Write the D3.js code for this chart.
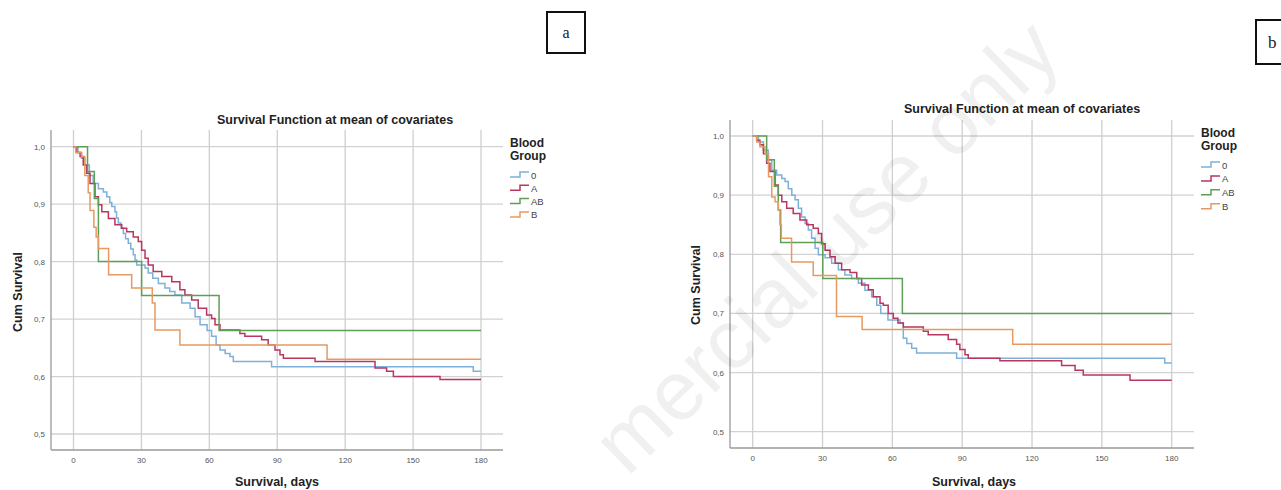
<!DOCTYPE html>
<html>
<head>
<meta charset="utf-8">
<script src="https://cdn.jsdelivr.net/npm/d3@7"></script>
<style>
  body { margin: 0; background: #fff; }
  text { font-family: Arial, "Liberation Sans", sans-serif; }
</style>
</head>
<body>
<svg id="chart" width="1281" height="490"></svg>
<script>
// blood groups and axis ticks
var groups = ["0", "A", "AB", "B"];
var groupColors = ["#7eb0da", "#b8375f", "#5f9e57", "#e69a62"];
var xTicks = [0, 30, 60, 90, 120, 150, 180];
var yTicks = [0.5, 0.6, 0.7, 0.8, 0.9, 1.0];

// panel a : [day, cum survival]
var a_0 = [[0,1],[2,0.99],[3.5,0.98],[5,0.968],[7,0.95],[8.7,0.936],[11,0.927],[13.2,0.921],[14.7,0.913],[16,0.903],[16.9,0.896],[18.3,0.887],[19,0.876],[19.8,0.867],[21,0.858],[22,0.849],[23,0.84],[24.2,0.832],[25.3,0.822],[26.4,0.812],[27.2,0.803],[27.9,0.794],[31.6,0.789],[33,0.78],[35,0.771],[37.5,0.762],[40.4,0.754],[42.5,0.748],[44.8,0.742],[47.8,0.728],[51.5,0.719],[53.7,0.704],[55.9,0.69],[59,0.68],[61,0.67],[63,0.655],[64.7,0.646],[67,0.64],[69.1,0.635],[70.6,0.626],[87.5,0.617],[176.6,0.609],[180,0.609]];
var a_A = [[0,1],[1.4,0.99],[2.9,0.983],[4.3,0.968],[5.8,0.954],[7.3,0.936],[9.5,0.913],[11,0.899],[12.5,0.887],[15.4,0.875],[18.3,0.864],[21.3,0.858],[23.5,0.852],[26.4,0.843],[28.6,0.835],[30.1,0.82],[31.6,0.806],[33,0.794],[35.2,0.783],[39,0.774],[43.4,0.765],[47,0.751],[49.2,0.742],[52.2,0.733],[55.1,0.719],[58.8,0.707],[61,0.701],[62.5,0.69],[64.7,0.681],[73.5,0.675],[75.7,0.67],[83.1,0.664],[86,0.655],[89,0.646],[91.2,0.638],[92.7,0.632],[106.7,0.626],[133.2,0.615],[138.3,0.609],[141.3,0.6],[161.9,0.595],[180,0.595]];
var a_AB = [[0,1],[6.2,0.957],[9.2,0.91],[11,0.8],[30.1,0.741],[64.3,0.68],[180,0.68]];
var a_B = [[0,1],[1,0.99],[3.6,0.983],[5,0.95],[6.5,0.92],[7.3,0.889],[9,0.86],[10,0.843],[11,0.823],[15.5,0.777],[25.7,0.754],[34.8,0.728],[36,0.681],[47,0.655],[112,0.63],[180,0.63]];

// panel b
var b_0 = [[0,1],[2.5,0.99],[4.6,0.976],[6.7,0.959],[8.2,0.942],[10.3,0.934],[12.5,0.928],[13.9,0.923],[15.3,0.911],[16.8,0.9],[18.2,0.892],[19.6,0.878],[21,0.863],[22.5,0.852],[23.9,0.841],[25.3,0.827],[26.8,0.81],[28.2,0.799],[31.1,0.794],[33.9,0.785],[36.8,0.774],[39.6,0.765],[42.5,0.759],[45.4,0.751],[48.2,0.739],[51.1,0.728],[53.3,0.714],[55,0.7],[58.1,0.689],[63.3,0.684],[64.7,0.658],[66.2,0.649],[68.3,0.641],[70.4,0.633],[87.6,0.624],[177,0.616],[180,0.616]];
var b_A = [[0,1],[1.7,0.993],[3.1,0.985],[4.6,0.97],[6,0.954],[7.4,0.94],[9.6,0.917],[11,0.9],[12.5,0.889],[14.6,0.878],[17.4,0.869],[20.3,0.858],[23.2,0.85],[26,0.844],[28.2,0.835],[29.6,0.818],[31.1,0.807],[33.2,0.796],[35.4,0.785],[38.2,0.774],[41.8,0.769],[44.7,0.759],[46.8,0.748],[49.7,0.74],[51.8,0.728],[54.7,0.717],[56.1,0.714],[58.2,0.7],[60.4,0.692],[62.4,0.684],[64.7,0.677],[73.3,0.67],[75.4,0.664],[84,0.656],[87.6,0.648],[89,0.639],[91.2,0.63],[92.6,0.624],[106.2,0.62],[132.7,0.612],[138.5,0.604],[142,0.596],[162.1,0.587],[180,0.587]];
var b_AB = [[0,1],[6,0.96],[9.3,0.915],[11,0.875],[12,0.82],[30.1,0.759],[64.3,0.7],[180,0.7]];
var b_B = [[0,1],[1.7,0.99],[3.1,0.982],[5.3,0.97],[6.8,0.931],[8.2,0.897],[9.6,0.889],[11,0.875],[11.7,0.85],[12.3,0.827],[16.7,0.787],[26,0.764],[36,0.695],[47,0.673],[111.7,0.648],[180,0.648]];

var svg = d3.select("#chart");

var fmtY = function(v){ return d3.format(".1f")(v).replace(".", ","); };

var drawPanel = function(p)
{
    var g = svg.append("g");
    var x = d3.scaleLinear().domain([0, 180]).range([p.x0, p.x1]);
    var y = d3.scaleLinear().domain([0.5, 1.0]).range([p.y0, p.y1]);

    // grid
    g.selectAll(".hg").data(yTicks).enter().append("line")
        .attr("x1", p.left).attr("x2", p.right)
        .attr("y1", function(d){ return y(d); }).attr("y2", function(d){ return y(d); })
        .style("stroke", "#d2d2d2").style("stroke-width", 1.3);
    g.selectAll(".vg").data(xTicks).enter().append("line")
        .attr("x1", function(d){ return x(d); }).attr("x2", function(d){ return x(d); })
        .attr("y1", p.top).attr("y2", p.bottom)
        .style("stroke", "#cfcfcf").style("stroke-width", 1.3);

    // axes lines
    g.append("line").attr("x1", p.left).attr("x2", p.left).attr("y1", p.top).attr("y2", p.bottom)
        .style("stroke", "#9a9a9a").style("stroke-width", 1.3);
    g.append("line").attr("x1", p.left).attr("x2", p.right).attr("y1", p.bottom).attr("y2", p.bottom)
        .style("stroke", "#9a9a9a").style("stroke-width", 1.3);

    // tick labels
    g.selectAll(".yl").data(yTicks).enter().append("text")
        .attr("x", p.left - 6).attr("y", function(d){ return y(d) + 3; })
        .attr("text-anchor", "end").style("font-size", "8px").style("fill", "#555")
        .text(fmtY);
    g.selectAll(".xl").data(xTicks).enter().append("text")
        .attr("x", function(d){ return x(d); }).attr("y", p.bottom + 13)
        .attr("text-anchor", "middle").style("font-size", "8px").style("fill", "#555")
        .text(function(d){ return d; });

    // curves
    var linegen = d3.line()
        .x(function(d){ return x(d[0]); })
        .y(function(d){ return y(d[1]); })
        .curve(d3.curveStepAfter);
    g.selectAll(".curve").data(p.series).enter().append("path")
        .attr("d", linegen)
        .attr("fill", "none")
        .style("stroke", function(d, i){ return groupColors[i]; })
        .style("stroke-width", 1.5);

    // titles
    g.append("text").attr("x", p.titleX).attr("y", p.titleY).attr("text-anchor", "middle")
        .style("font-size", "12.5px").style("font-weight", "bold").style("fill", "#222")
        .text("Survival Function at mean of covariates");
    g.append("text").attr("x", p.xlabX).attr("y", p.xlabY).attr("text-anchor", "middle")
        .style("font-size", "12.5px").style("font-weight", "bold").style("fill", "#222")
        .text("Survival, days");
    g.append("text").attr("transform", "translate(" + p.ylabX + "," + p.ylabY + ") rotate(-90)")
        .attr("text-anchor", "middle")
        .style("font-size", "12.5px").style("font-weight", "bold").style("fill", "#222")
        .text("Cum Survival");

    // legend
    g.append("text").attr("x", p.legX).attr("y", p.legY).style("font-size", "12px")
        .style("font-weight", "bold").style("fill", "#222").text("Blood");
    g.append("text").attr("x", p.legX).attr("y", p.legY + 12.5).style("font-size", "12px")
        .style("font-weight", "bold").style("fill", "#222").text("Group");
    var items = g.selectAll(".leg").data(groups).enter().append("g")
        .attr("transform", function(d, i){ return "translate(" + p.legX + "," + (p.legY + 28 + i * p.legStep) + ")"; });
    items.append("path")
        .attr("d", "M0,2 H10 V-3 H19")
        .attr("fill", "none")
        .style("stroke", function(d, i){ return groupColors[i]; })
        .style("stroke-width", 1.5);
    items.append("text").attr("x", 21).attr("y", 3.5).style("font-size", "9.5px").style("fill", "#444")
        .text(function(d){ return d; });
};

drawPanel({
    series: [a_0, a_A, a_AB, a_B],
    x0: 73.5, x1: 481, y0: 434, y1: 146.7,
    left: 51, right: 503, top: 130, bottom: 450,
    titleX: 335, titleY: 124, xlabX: 277, xlabY: 486, ylabX: 22, ylabY: 292,
    legX: 510, legY: 147, legStep: 13.3
});
drawPanel({
    series: [b_0, b_A, b_AB, b_B],
    x0: 752.7, x1: 1171.7, y0: 431.7, y1: 136,
    left: 730, right: 1194, top: 120, bottom: 448,
    titleX: 1022, titleY: 113, xlabX: 974, xlabY: 486, ylabX: 700, ylabY: 285,
    legX: 1201, legY: 137, legStep: 13.9
});

// panel letters
svg.append("rect").attr("x", 547).attr("y", 12).attr("width", 38).attr("height", 41)
    .attr("fill", "none").style("stroke", "#111").style("stroke-width", 2);
svg.append("text").attr("x", 566).attr("y", 38).attr("text-anchor", "middle")
    .style("font-family", "'Liberation Serif', serif").style("font-size", "16px").style("fill", "#222").text("a");
svg.append("rect").attr("x", 1256).attr("y", 20).attr("width", 40).attr("height", 44)
    .attr("fill", "none").style("stroke", "#111").style("stroke-width", 2);
svg.append("text").attr("x", 1268).attr("y", 48)
    .style("font-family", "'Liberation Serif', serif").style("font-size", "17px").style("fill", "#222").text("b");

// watermark
svg.append("text")
    .attr("transform", "translate(1064,56) rotate(-44)")
    .attr("text-anchor", "end")
    .style("font-size", "84px").style("fill", "#000").style("opacity", 0.055)
    .text("mercial use only");
</script>
</body>
</html>
